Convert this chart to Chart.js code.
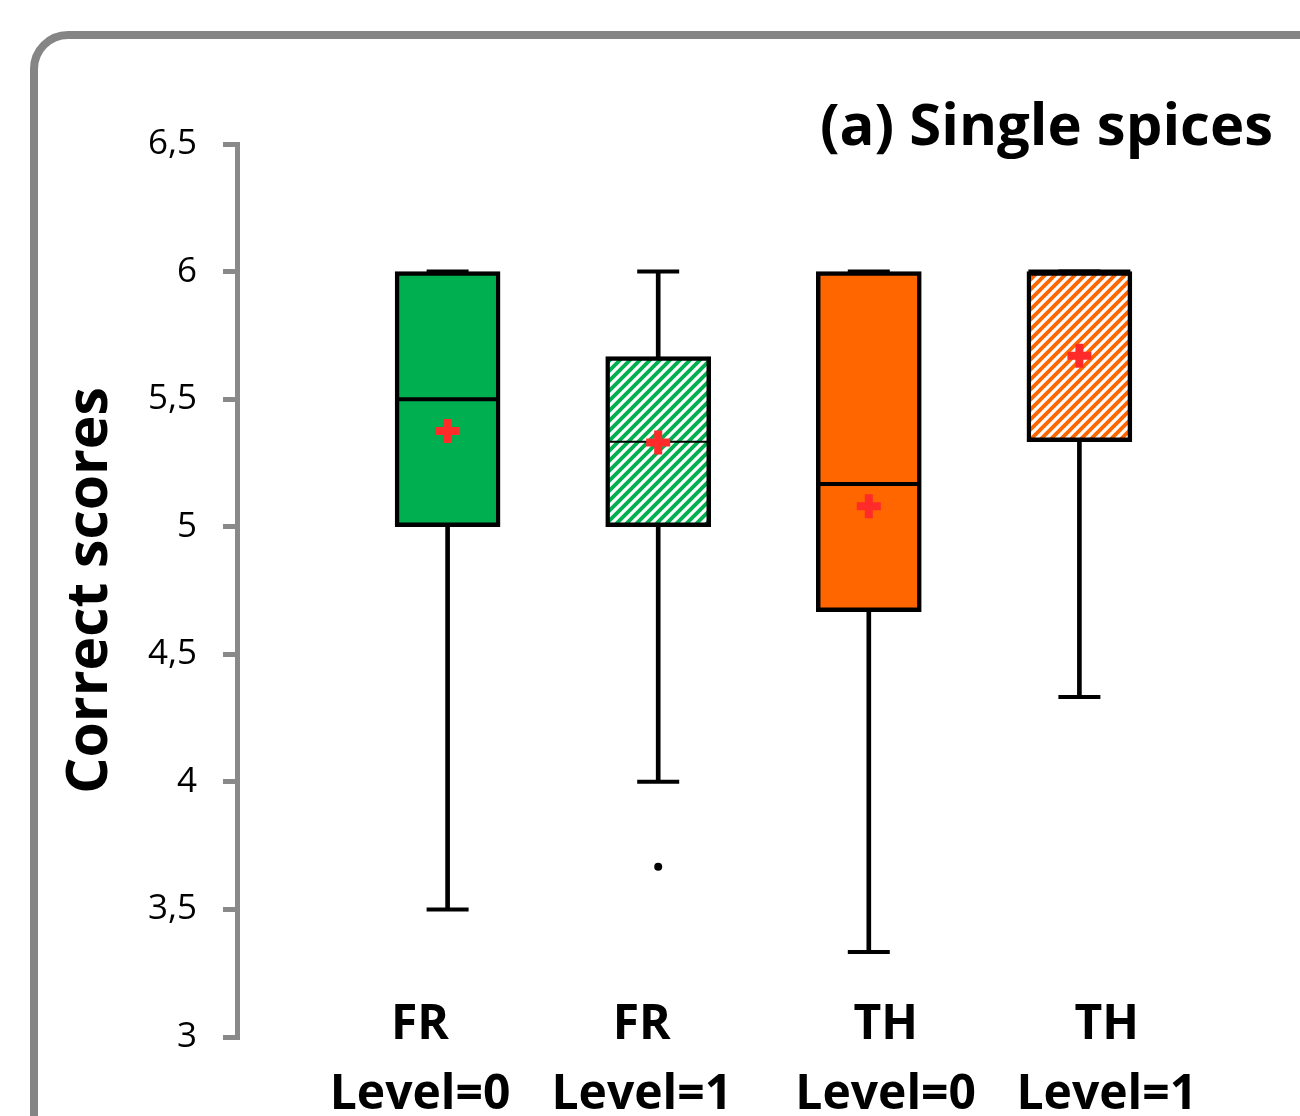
<!DOCTYPE html>
<html>
<head>
<meta charset="utf-8">
<script src="https://cdn.jsdelivr.net/npm/chart.js@4.4.1/dist/chart.umd.min.js"></script>
<style>
  body { margin: 0; background: #fff; overflow: hidden; }
  #frame { position: absolute; left: 30px; top: 31px; width: 1400px; height: 1200px; border: 8px solid #858585; border-radius: 38px; box-sizing: border-box; }
  #wrap { position: absolute; left: 0; top: 0; width: 1300px; height: 1116px; }
</style>
</head>
<body>
<div id="frame"></div>
<div id="wrap"><canvas id="boxChart"></canvas></div>
<script>
// groups and box-plot statistics
const groups = [['FR', 'Level=0'], ['FR', 'Level=1'], ['TH', 'Level=0'], ['TH', 'Level=1']];
const positions = [1, 2, 3, 4];
const whiskerLow = [3.5, 4, 3.333, 4.333];
const whiskerHigh = [6, 6, 6, 6];
const q1 = [5, 5, 4.667, 5.333];
const q3 = [6, 5.667, 6, 6];
const medians = [5.5, 5.333, 5.167, 6];
const means = [5.375, 5.33, 5.08, 5.67];
const outliers = [{ x: 2, y: 3.667 }];
const yTicks = [3, 3.5, 4, 4.5, 5, 5.5, 6, 6.5];

// label anchor spots on the x axis (labels sit a bit off the box centres)
const labelPos = [0.869, 1.922, 3.08, 4.13];

const GREEN = '#00b050';
const ORANGE = '#ff6600';
const AXIS_GREY = '#898989';
const FONT = '"Open Sans", "Noto Sans", sans-serif';

function hatch(color) {
  const s = 10;
  const c = document.createElement('canvas');
  c.width = s; c.height = s;
  const g = c.getContext('2d');
  g.fillStyle = '#fff';
  g.fillRect(0, 0, s, s);
  g.strokeStyle = color;
  g.lineWidth = 3.8;
  g.beginPath();
  g.moveTo(-1, s + 1); g.lineTo(s + 1, -1);
  g.moveTo(-3, 3); g.lineTo(3, -3);
  g.moveTo(s - 3, s + 3); g.lineTo(s + 3, s - 3);
  g.stroke();
  return g.createPattern(c, 'repeat');
}

const ctx = document.getElementById('boxChart').getContext('2d');
const boxFills = [GREEN, hatch(GREEN), ORANGE, hatch(ORANGE)];

const titlePlugin = {
  id: 'panelTitle',
  afterDraw(chart) {
    const c = chart.ctx;
    c.save();
    c.font = 'bold 58px ' + FONT;
    c.fillStyle = '#000';
    c.textAlign = 'right';
    c.textBaseline = 'middle';
    c.fillText('(a) Single spices', 1273, 128);
    c.restore();
  }
};

new Chart(ctx, {
  type: 'bar',
  data: {
    datasets: [
      {
        label: 'whiskers',
        data: positions.map((x, i) => ({ x, y: [whiskerLow[i], whiskerHigh[i]] })),
        backgroundColor: '#000',
        borderWidth: 0,
        barThickness: 4,
        grouped: false,
        order: 5
      },
      {
        type: 'scatter',
        label: 'caps',
        data: positions.flatMap((x, i) => [{ x, y: whiskerLow[i] }, { x, y: whiskerHigh[i] }]),
        pointStyle: 'line',
        radius: 21,
        borderColor: '#000',
        borderWidth: 4,
        order: 4
      },
      {
        label: 'boxes',
        data: positions.map((x, i) => ({ x, y: [q1[i], q3[i]] })),
        backgroundColor: boxFills,
        borderColor: '#000',
        borderWidth: 4.5,
        borderSkipped: false,
        barThickness: 105,
        grouped: false,
        order: 3
      },
      {
        type: 'scatter',
        label: 'medians',
        data: positions.map((x, i) => ({ x, y: medians[i] })),
        pointStyle: 'line',
        radius: 51,
        borderColor: '#000',
        borderWidth: [4, 2, 4, 4],
        order: 2
      },
      {
        type: 'scatter',
        label: 'outliers',
        data: outliers,
        pointStyle: 'circle',
        radius: 4,
        backgroundColor: '#000',
        borderWidth: 0,
        order: 1
      },
      {
        type: 'scatter',
        label: 'means',
        data: positions.map((x, i) => ({ x, y: means[i] })),
        pointStyle: 'cross',
        radius: 12,
        borderColor: '#ff2a2a',
        borderWidth: 8,
        order: 0
      }
    ]
  },
  options: {
    responsive: true,
    maintainAspectRatio: false,
    animation: false,
    layout: { autoPadding: false, padding: { left: 0, top: 144, right: 10, bottom: 0 } },
    plugins: { legend: { display: false }, tooltip: { enabled: false } },
    scales: {
      x: {
        type: 'linear',
        min: 0,
        max: 5,
        offset: false,
        grid: { display: false, drawTicks: false },
        border: { display: false },
        afterBuildTicks: (scale) => { scale.ticks = labelPos.map(v => ({ value: v })); },
        afterFit: (scale) => { scale.height = 79; },
        ticks: {
          autoSkip: false,
          maxRotation: 0,
          mirror: true,
          padding: -23,
          color: '#000',
          font: { family: FONT, size: 48, weight: 'bold', lineHeight: 1.46 },
          callback: (v, i) => groups[i]
        }
      },
      y: {
        min: 3,
        max: 6.5,
        afterBuildTicks: (scale) => { scale.ticks = yTicks.map(v => ({ value: v })); },
        afterFit: (scale) => { scale.width = 237; },
        grid: { drawOnChartArea: false, drawTicks: true, tickLength: 14, color: AXIS_GREY, lineWidth: 5 },
        border: { display: true, color: AXIS_GREY, width: 5 },
        ticks: {
          padding: 26,
          color: '#000',
          font: { family: FONT, size: 35 },
          callback: (v) => String(v).replace('.', ',')
        },
        title: {
          display: true,
          text: 'Correct scores',
          color: '#000',
          font: { family: FONT, size: 57, weight: 'bold' },
          padding: { top: 57, bottom: 0 }
        }
      }
    }
  },
  plugins: [titlePlugin]
});
</script>
</body>
</html>
